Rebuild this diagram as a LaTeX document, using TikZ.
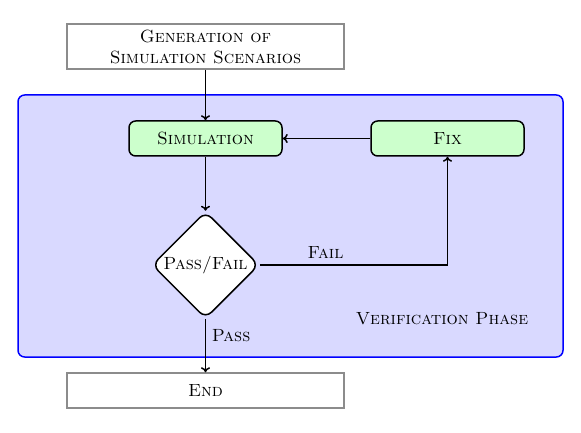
\documentclass[tikz,border=0pt]{standalone}
\usetikzlibrary{shapes.geometric,arrows.meta}
\newcommand\diagfont{\fontsize{10.6}{12.6}\selectfont\scshape}
\begin{document}
\begin{tikzpicture}[x=0.6pt,y=-0.6pt,
  plainbox/.style={draw=black!45,fill=white,line width=0.9pt,minimum width=277*0.6pt,align=center,font=\diagfont,inner sep=0pt},
  procbox/.style={draw=black,fill=green!20,rounded corners=4pt,line width=0.9pt,minimum width=153*0.6pt,minimum height=35*0.6pt,font=\diagfont,inner sep=0pt},
  decision/.style={diamond,draw=black,fill=white,rounded corners=5pt,line width=0.9pt,aspect=1,inner sep=0pt,minimum width=107*0.6pt,minimum height=107*0.6pt,font=\diagfont},
  conn/.style={-{To[length=3pt,width=5.5pt]},line width=0.9pt},
  lbl/.style={font=\diagfont}]
\useasboundingbox (0,0) rectangle (581,433);
\fill[blue!15,draw=blue,line width=0.9pt,rounded corners=4pt] (18,95) rectangle (563,357);
\node[plainbox,minimum height=45*0.6pt] (gen) at (205.5,46.5) {Generation of\\Simulation Scenarios};
\node[procbox] (sim) at (205.5,138.5) {Simulation};
\node[procbox] (fix) at (447.5,138.5) {Fix};
\node[decision] (pf) at (205.5,265) {Pass/Fail};
\node[plainbox,minimum height=35*0.6pt] (end) at (205.5,390.5) {End};
\node[lbl] (vp) at (442,319) {Verification Phase};
\draw[conn] (gen.south) -- (sim.north);
\draw[conn] (sim.south) -- (pf.north);
\draw[conn] (fix.west) -- (sim.east);
\draw[conn] (pf.east) -- (pf.east -| fix.south) node[pos=0.35,above,lbl] {Fail} -- (fix.south);
\draw[conn] (pf.south) -- (end.north) node[pos=0.3,right,lbl] {Pass};
\end{tikzpicture}
\end{document}
